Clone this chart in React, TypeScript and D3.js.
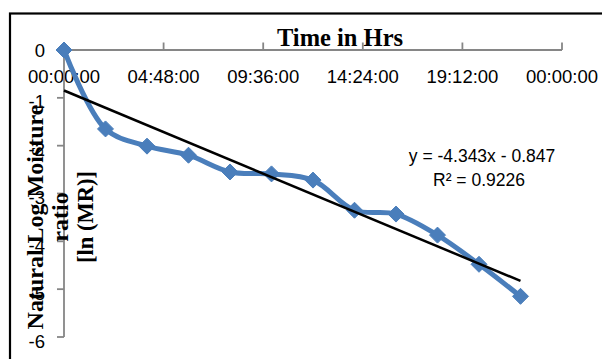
import React from "react";
import * as d3 from "d3";

const hours = [0, 2, 4, 6, 8, 10, 12, 14, 16, 18, 20, 22];
const lnMR = [0, -1.65, -2.01, -2.2, -2.55, -2.59, -2.72, -3.35, -3.43, -3.87, -4.48, -5.15];
const xTickHours = [0, 4.8, 9.6, 14.4, 19.2, 24];
const xTickLabels = ["00:00:00", "04:48:00", "09:36:00", "14:24:00", "19:12:00", "00:00:00"];
const yTicks = [0, -1, -2, -3, -4, -5, -6];
const trendSlope = -4.343; // per day
const trendIntercept = -0.847;
const equationText = "y = -4.343x - 0.847";
const r2Text = "R² = 0.9226";
const xTitle = "Time in Hrs";
const yTitleLines = ["Natural Log Moisture", "ratio", "[ln (MR)]"];

export default function App() {
  const W = 602, H = 359;
  const x = d3.scaleLinear().domain([0, 24]).range([64, 562]);
  const y = d3.scaleLinear().domain([-6, 0]).range([337, 50]);
  const pts: [number, number][] = hours.map((h, i) => [x(h), y(lnMR[i])]);
  const line = d3.line().curve(d3.curveCatmullRom.alpha(0.5))(pts) || "";
  const t0 = hours[0], t1 = hours[hours.length - 1];
  const trend = (h: number) => trendSlope * (h / 24) + trendIntercept;
  const axisColor = "#868686";
  const blue = "#4A7EBB";
  const sans = "'Liberation Sans', Arial, sans-serif";
  const serif = "'Liberation Serif', 'Times New Roman', serif";
  const tickFont = 18.5;
  const ms = 8;
  const titleSizes = [24, 24, 22.5];
  return (
    <svg width={W} height={H} style={{ position: "absolute", left: 0, top: 0, background: "#fff" }}>
      <rect x={0} y={0} width={W} height={H} fill="#fff" />
      <rect x={10} y={13.5} width={W + 20} height={H + 20} fill="none" stroke="#000" strokeWidth={2.2} />
      {/* x axis at top */}
      <line x1={x(0)} x2={x(24)} y1={y(0)} y2={y(0)} stroke={axisColor} strokeWidth={1.8} />
      {xTickHours.map((h, i) => (
        <line key={"xt" + i} x1={x(h)} x2={x(h)} y1={y(0)} y2={y(0) - 7.5} stroke={axisColor} strokeWidth={1.8} />
      ))}
      {xTickHours.map((h, i) => (
        <text key={"xl" + i} x={x(h)} y={83} textAnchor="middle" fontFamily={sans} fontSize={tickFont} fill="#000">
          {xTickLabels[i]}
        </text>
      ))}
      {/* y axis */}
      <line x1={x(0)} x2={x(0)} y1={y(0)} y2={y(-6)} stroke={axisColor} strokeWidth={1.8} />
      {yTicks.map((v, i) => (
        <line key={"yt" + i} x1={x(0) - 7} x2={x(0)} y1={y(v)} y2={y(v)} stroke={axisColor} strokeWidth={1.8} />
      ))}
      {yTicks.map((v, i) => (
        <text
          key={"yl" + i}
          x={45}
          y={y(v) + (v === 0 ? 0 : 4)}
          textAnchor="end"
          dominantBaseline="central"
          fontFamily={sans}
          fontSize={tickFont}
          fill="#000"
        >
          {v === 0 ? "0" : "-" + Math.abs(v)}
        </text>
      ))}
      {/* axis titles */}
      <text x={340} y={46} textAnchor="middle" fontFamily={serif} fontWeight="bold" fontSize={24.5} fill="#000">
        {xTitle}
      </text>
      {yTitleLines.map((t, i) => (
        <text
          key={"yt_" + i}
          transform={`translate(${43 + i * 25},${217}) rotate(-90)`}
          textAnchor="middle"
          fontFamily={serif}
          fontWeight="bold"
          fontSize={titleSizes[i]}
          fill="#000"
        >
          {t}
        </text>
      ))}
      {/* series */}
      <path d={line} fill="none" stroke={blue} strokeWidth={5} strokeLinejoin="round" />
      {pts.map(([px, py], i) => (
        <path key={"m" + i} d={`M${px},${py - ms}L${px + ms},${py}L${px},${py + ms}L${px - ms},${py}Z`} fill={blue} stroke={blue} strokeWidth={1} />
      ))}
      {/* trendline */}
      <line x1={x(t0)} y1={y(trend(t0))} x2={x(t1)} y2={y(trend(t1))} stroke="#000" strokeWidth={2.5} />
      <text x={482} y={162} textAnchor="middle" fontFamily={sans} fontSize={17.5} fill="#000">
        {equationText}
      </text>
      <text x={479} y={186} textAnchor="middle" fontFamily={sans} fontSize={17.5} fill="#000">
        {r2Text}
      </text>
    </svg>
  );
}
